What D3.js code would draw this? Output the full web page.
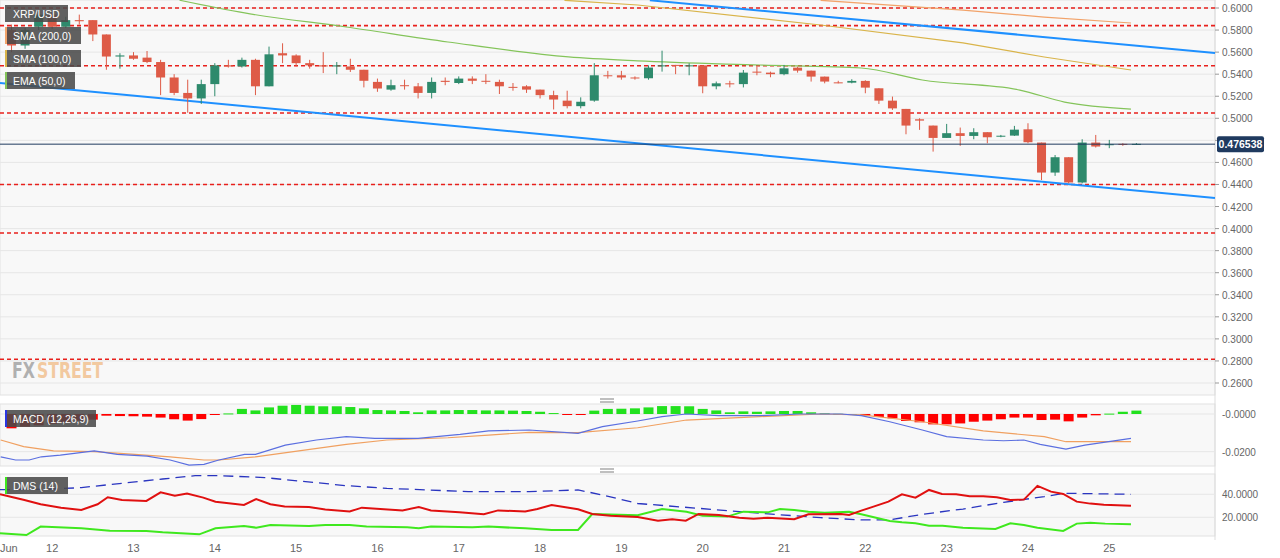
<!DOCTYPE html>
<html><head><meta charset="utf-8">
<script src="https://cdn.jsdelivr.net/npm/d3@7"></script>
<style>body{margin:0;background:#fff;font-family:"Liberation Sans",Arial,sans-serif}</style>
</head><body><svg id="c" width="1280" height="558"></svg>
<script>
// ---- DATA ----
// candles every 4h starting Jun 11 12:00 (index 0); [open, high, low, close]
const candles = [
[.580,.585,.560,.566],[.566,.582,.563,.580],[.583,.598,.580,.594],[.594,.596,.581,.583],[.583,.592,.582,.589],
[.589,.594,.585,.588],[.589,.589,.570,.576],[.576,.576,.544,.556],[.556,.559,.545,.557],[.557,.560,.553,.554],
[.555,.561,.550,.551],[.551,.553,.521,.537],[.537,.540,.521,.523],[.523,.535,.505,.518],[.518,.535,.513,.531],
[.531,.550,.520,.548],[.548,.553,.546,.547],[.547,.555,.546,.553],[.553,.554,.521,.529],[.529,.565,.529,.558],
[.559,.568,.550,.557],[.557,.558,.547,.550],[.550,.553,.545,.548],[.548,.560,.541,.547],[.547,.551,.540,.548],
[.547,.554,.542,.544],[.544,.544,.528,.534],[.533,.536,.524,.527],[.526,.535,.525,.530],[.530,.535,.526,.5295],
[.529,.532,.518,.523],[.523,.537,.518,.533],[.534,.537,.530,.533],[.532,.538,.531,.536],[.536,.538,.531,.534],
[.534,.540,.531,.5335],[.533,.535,.522,.529],[.5285,.532,.525,.528],[.529,.530,.523,.526],[.526,.526,.518,.521],
[.521,.525,.508,.517],[.516,.525,.509,.511],[.511,.519,.509,.515],[.516,.550,.515,.539],[.539,.543,.536,.5385],
[.539,.543,.535,.537],[.537,.538,.535,.5365],[.5363,.548,.535,.546],[.5475,.5613,.5423,.548],[.5484,.5484,.540,.548],
[.5475,.5499,.539,.548],[.548,.548,.5227,.529],[.529,.5333,.5263,.5317],[.5317,.534,.528,.531],[.531,.5438,.528,.5414],
[.5423,.5468,.539,.542],[.5414,.5423,.5372,.540],[.540,.5484,.539,.5453],[.5459,.5468,.5414,.5432],[.5432,.5432,.5333,.5378],
[.5378,.5378,.5317,.5333],[.5326,.534,.5317,.532],[.5323,.5354,.5317,.5339],[.5339,.5345,.5227,.5278],[.5272,.5272,.513,.516],
[.516,.5197,.5076,.509],[.5085,.5085,.4855,.4934],[.4991,.500,.4895,.4979],[.4934,.4934,.4698,.4822],[.4822,.4949,.4822,.4865],
[.4865,.4916,.475,.484],[.484,.491,.481,.4874],[.4874,.4874,.4774,.4828],[.4838,.4849,.4828,.4842],[.4843,.4931,.484,.4897],
[.490,.4955,.4774,.4783],[.478,.478,.444,.4508],[.4508,.4667,.4478,.4647],[.4647,.4647,.441,.4418],[.4418,.481,.441,.478],
[.478,.4849,.4735,.4744],[.4762,.4804,.4729,.4765],[.4768,.4774,.475,.4765],[.4762,.4775,.4759,.4768]
];
const ema50 = [[12.4,.607],[17.2,.5955],[24.7,.5828],[32.2,.5692],[41.1,.5556],[46.2,.552],[55.2,.5483],[62.7,.5456],[67.2,.5347],[74.4,.5256],[77.7,.5147],[82.6,.5084]];
const sma100 = [[40.8,.607],[46.2,.6027],[59.7,.5846],[70.2,.5683],[76.2,.5556],[82.6,.5438]];
const sma200 = [[59.7,.607],[70.2,.598],[76.2,.5918],[82.6,.5864]];
const trendLines = [[[-0.85,.532],[88.8,.4277]],[[47.1,.607],[88.8,.5592]]];
const hLevels = [.6,.584,.5477,.5048,.44,.396,.2816];
const lastPrice = 0.476538;
const priceTicks = d3.range(0.26,0.6001,0.02);
const macdHist = [-.0076,-.0067,-.006,-.0052,-.0045,-.0035,-.003,-.0009,-.0011,-.0012,-.0014,-.0019,-.0028,-.0035,-.0027,-.0005,
.0003,.0027,.0019,.0035,.0044,.0048,.0044,.0041,.0041,.0037,.003,.0021,.0019,.0016,.0009,.0019,.0019,.0021,.0021,.0019,.0019,.0018,.0016,.0012,.0005,
-.0002,-.0001,.0018,.0027,.0028,.003,.0035,.0042,.0042,.0041,.0027,.0019,.0009,.0014,.0012,.0014,.0016,.0016,.0009,.0004,.0001,0,
-.0009,-.0016,-.0023,-.0037,-.0044,-.0055,-.0055,-.005,-.0041,-.0035,-.0028,-.0019,-.0019,-.0032,-.003,-.0039,-.0019,-.0007,.0002,.0012,.0018];
const macdLine = [[-0.8,-.0227],[0.3,-.0244],[1.3,-.0244],[2.2,-.0227],[3.6,-.0218],[6.1,-.0196],[7.8,-.0214],[10,-.0223],[11.7,-.0244],[13.1,-.0271],[14.2,-.0267],[15.3,-.0244],[17.2,-.0214],[18,-.0214],[20.2,-.0165],[22.5,-.0138],[24.7,-.012],[26.8,-.0129],[30,-.0129],[33.1,-.0108],[35.2,-.009],[38.2,-.0085],[41.8,-.0103],[43.6,-.0067],[46.2,-.0037],[48,-.0014],[49.8,0],[52.2,-.0009],[55.2,-.0009],[58.2,0],[61.2,0],[62.7,-.0009],[64.8,-.0041],[67.2,-.0085],[69,-.012],[71.7,-.0138],[73.2,-.0142],[74.7,-.0138],[75.9,-.0161],[77.8,-.0186],[79.2,-.0165],[82.6,-.0129]];
const signalLine = [[-0.8,-.0138],[0.9,-.0173],[3.1,-.0196],[6.1,-.02],[9.1,-.0214],[11.7,-.0227],[14.2,-.0244],[15.3,-.0244],[18,-.0227],[20.8,-.02],[24.7,-.0161],[27.7,-.0138],[32.2,-.0126],[35.2,-.0112],[38.2,-.0097],[41.8,-.0099],[46.2,-.0073],[49.8,-.0032],[55.2,-.0014],[59.7,0],[62.7,-.0005],[67.2,-.0041],[71.7,-.009],[76.2,-.012],[77.8,-.0147],[82.6,-.0147]];
const diMinus = [[-0.85,40],[0.95,35],[2.15,31.3],[3.65,28.4],[5.15,26.4],[6.35,31.3],[7.1,37.4],[8.15,35],[9.95,34.2],[11,41.7],[12.05,38.8],[12.95,40.6],[14.15,37.1],[15.05,33.6],[17.15,30.7],[18.05,35.9],[19.1,31.3],[20.15,29.3],[21.95,29],[23.15,26.7],[24.95,25],[25.85,28.4],[28.85,26],[30.05,29],[30.95,26],[33.05,24.3],[34.85,22.6],[35.9,26],[37.9,25],[38.8,27.2],[39.85,30.7],[41.8,27],[42.85,22.9],[44.2,21.4],[46.2,20.2],[47.7,17.1],[48.75,18.3],[49.75,17.1],[50.7,22.9],[52.2,22],[53.7,19.7],[54.75,18.8],[55.8,19.7],[57.75,18.3],[58.8,22.6],[61.2,22.9],[61.8,22],[62.7,25.8],[63.6,29.3],[64.7,33.6],[65.7,40],[66.7,37.1],[67.7,43.8],[68.65,40.3],[69.7,40],[70.7,38.3],[71.7,38.3],[72.7,37.4],[73.7,35],[74.7,35.4],[75.7,47.3],[76.7,42.3],[77.6,40.3],[78.6,33.6],[79.6,31.9],[80.6,31],[82.6,30.1]];
const diPlus = [[-0.85,6.1],[1.1,4.6],[2.15,11.9],[5.15,10.4],[7.25,8.4],[9.95,8.1],[11.15,6.9],[13.85,5.2],[15.05,10.4],[17.15,12.4],[18.05,11],[19.1,13.3],[21.95,12.4],[23.15,13.3],[24.95,13.3],[26.2,11.9],[29.2,11.3],[30.05,10.4],[30.95,11.9],[34,11.3],[35.2,11.9],[37.9,10.4],[39.85,9],[41.8,9],[42.85,22.9],[46.2,21.8],[48,27.2],[49.8,24.9],[51,21.4],[52.8,20.6],[54,24.9],[55.8,24.3],[56.7,27.2],[57.75,26.4],[58.8,24.9],[60,24],[61.8,24.9],[62.7,22.6],[64.8,16.8],[65.7,15.6],[66.7,14.8],[67.7,12.7],[68.7,12.7],[70.2,11],[72.6,9.8],[73.7,14.8],[74.7,13.3],[75.7,11],[77.6,8.1],[78.6,14.5],[79.6,15.3],[80.7,14.5],[82.6,13.9]];
const adx = [[-0.85,44],[3.05,44.6],[5.15,45.8],[8.15,49.6],[11.15,53.3],[13.55,56.2],[15.4,56.2],[18.7,54.5],[21.7,51],[24.7,47.5],[27.7,45.2],[30.7,43.8],[33.7,42.3],[38.2,42.3],[41.8,43.8],[43.6,39.4],[46.2,32],[50.7,27.8],[55.2,23.5],[59.7,19.7],[62.7,17.7],[64.8,17.7],[67.2,22.6],[70.2,27.2],[73.2,33],[76.2,38],[77.7,40.9],[82.6,40]];
const days = [12,13,14,15,16,17,18,19,20,21,22,23,24,25];
const macdTicks = [0,-0.02], dmsTicks = [40,20];

// ---- DRAW ----
const svg = d3.select("#c");
const W = 1215;
const x = d3.scaleLinear().domain([-0.85, 88.8]).range([0, W]);
const y = d3.scaleLinear().domain([0.26, 0.6]).range([383, 8]);
const ym = d3.scaleLinear().domain([0, -0.02]).range([414, 451.7]);
const yd = d3.scaleLinear().domain([20, 40]).range([517.3, 494.3]);
const panes = [[0,395],[404,466],[474,536]];
panes.forEach(p=>svg.append("rect").attr("x",0).attr("y",p[0]).attr("width",W).attr("height",p[1]-p[0]).attr("fill","#f8f8f8").attr("stroke","#e2e2e2"));
svg.append("line").attr("x1",W).attr("x2",W).attr("y1",0).attr("y2",540).attr("stroke","#ddd");
[399,469].forEach(h=>{[0,3].forEach(o=>svg.append("line").attr("x1",600).attr("x2",614).attr("y1",h+o).attr("y2",h+o).attr("stroke","#aaa").attr("stroke-width",1.5));});
const g = svg.append("g");
priceTicks.forEach(t=>{
  g.append("line").attr("x1",0).attr("x2",W).attr("y1",y(t)).attr("y2",y(t)).attr("stroke","#e6e6e6");
  g.append("line").attr("x1",W).attr("x2",W+4).attr("y1",y(t)).attr("y2",y(t)).attr("stroke","#999");
  if (Math.abs(y(t)-y(lastPrice))>9) g.append("text").attr("x",1222).attr("y",y(t)+4).attr("font-size",10).attr("fill","#666").text(t.toFixed(4));
});
macdTicks.forEach(t=>{
  g.append("line").attr("x1",0).attr("x2",W).attr("y1",ym(t)).attr("y2",ym(t)).attr("stroke","#e6e6e6");
  g.append("text").attr("x",1222).attr("y",ym(t)+4).attr("font-size",10).attr("fill","#666").text("-"+Math.abs(t).toFixed(4));
});
dmsTicks.forEach(t=>{
  g.append("line").attr("x1",0).attr("x2",W).attr("y1",yd(t)).attr("y2",yd(t)).attr("stroke","#e6e6e6");
  g.append("text").attr("x",1222).attr("y",yd(t)+4).attr("font-size",10).attr("fill","#666").text(t.toFixed(4));
});
const wmFont = "'DejaVu Sans Condensed','Liberation Sans Narrow',sans-serif";
svg.append("text").attr("x",12).attr("y",378).attr("font-size",21).attr("font-weight","bold").attr("font-family",wmFont).attr("textLength",23).attr("lengthAdjust","spacingAndGlyphs").attr("fill","#b0b0b0").text("FX");
svg.append("text").attr("x",37).attr("y",378).attr("font-size",21).attr("font-weight","bold").attr("font-family",wmFont).attr("textLength",66).attr("lengthAdjust","spacingAndGlyphs").attr("fill","#f2c9a0").text("STREET");
hLevels.forEach(v=>svg.append("line").attr("x1",0).attr("x2",W).attr("y1",y(v)).attr("y2",y(v)).attr("stroke","#e8201c").attr("stroke-width",1.6).attr("stroke-dasharray","4,3"));
const line = (ys)=>d3.line().x(d=>x(d[0])).y(d=>ys(d[1]));
svg.append("clipPath").attr("id","cm").append("rect").attr("x",0).attr("y",0).attr("width",W).attr("height",395);
const mg = svg.append("g").attr("clip-path","url(#cm)");
mg.append("path").attr("d",line(y)(sma200)).attr("fill","none").attr("stroke","#f2a36a").attr("stroke-width",1.2);
mg.append("path").attr("d",line(y)(sma100)).attr("fill","none").attr("stroke","#d9b44a").attr("stroke-width",1.2);
mg.append("path").attr("d",line(y).curve(d3.curveMonotoneX)(ema50)).attr("fill","none").attr("stroke","#84c45a").attr("stroke-width",1.2);
trendLines.forEach(t=>mg.append("path").attr("d",line(y)(t)).attr("fill","none").attr("stroke","#1e90ff").attr("stroke-width",2));
svg.append("line").attr("x1",0).attr("x2",W).attr("y1",y(lastPrice)).attr("y2",y(lastPrice)).attr("stroke","#1f3a5f").attr("stroke-width",1);
const bw = 9;
candles.forEach((c,i)=>{
  const [o,h,l,cl] = c; const up = cl>=o; const col = up?"#2e8a6c":"#de5b47";
  mg.append("line").attr("x1",x(i)).attr("x2",x(i)).attr("y1",y(h)).attr("y2",y(l)).attr("stroke",col).attr("stroke-width",1);
  const top = y(Math.max(o,cl)), bot = y(Math.min(o,cl));
  mg.append("rect").attr("x",x(i)-bw/2).attr("y",top).attr("width",bw).attr("height",Math.max(1,bot-top)).attr("fill",col);
});
svg.append("rect").attr("x",1217).attr("y",y(lastPrice)-8).attr("width",47).attr("height",16).attr("fill","#1f3a5f").attr("rx",2);
svg.append("text").attr("x",1240.5).attr("y",y(lastPrice)+4).attr("text-anchor","middle").attr("font-size",10.5).attr("font-weight","bold").attr("fill","#fff").text(lastPrice.toFixed(6));
macdHist.forEach((v,i)=>{
  const y0 = ym(0), y1 = ym(v);
  svg.append("rect").attr("x",x(i)-5).attr("y",Math.min(y0,y1)).attr("width",10).attr("height",Math.max(1,Math.abs(y1-y0))).attr("fill",v>=0?"#22e11e":"#ff0000");
});
svg.append("path").attr("d",line(ym)(signalLine)).attr("fill","none").attr("stroke","#f0a060").attr("stroke-width",1.2);
svg.append("path").attr("d",line(ym)(macdLine)).attr("fill","none").attr("stroke","#5b6fe0").attr("stroke-width",1.2);
svg.append("path").attr("d",line(yd)(adx)).attr("fill","none").attr("stroke","#2a35c0").attr("stroke-width",1.3).attr("stroke-dasharray","10,6");
svg.append("path").attr("d",line(yd)(diPlus)).attr("fill","none").attr("stroke","#3fe81e").attr("stroke-width",2);
svg.append("path").attr("d",line(yd)(diMinus)).attr("fill","none").attr("stroke","#e01010").attr("stroke-width",2);
svg.append("text").attr("x",0).attr("y",552).attr("font-size",11).attr("fill","#666").text("Jun");
days.forEach(d=>svg.append("text").attr("x",x(3+(d-12)*6)).attr("y",552).attr("text-anchor","middle").attr("font-size",11).attr("fill","#666").text(d));
const labels = [["XRP/USD",5,5,63,null],["SMA (200,0)",5,27,76,"#f2a36a"],["SMA (100,0)",5,50,76,"#d9b44a"],["EMA (50,0)",5,72,70,"#84c45a"],["MACD (12,26,9)",5,410,91,"#2a35e0"],["DMS (14)",5,477,63,"#3fe81e"]];
labels.forEach(([t,lx,ly,w,acc])=>{
  svg.append("rect").attr("x",lx).attr("y",ly).attr("width",w).attr("height",17).attr("fill","#4a4a4a").attr("opacity",0.88);
  if(acc) svg.append("rect").attr("x",lx).attr("y",ly).attr("width",2).attr("height",17).attr("fill",acc);
  svg.append("text").attr("x",lx+8).attr("y",ly+12.5).attr("font-size",10.5).attr("fill","#fff").text(t);
});
</script></body></html>
